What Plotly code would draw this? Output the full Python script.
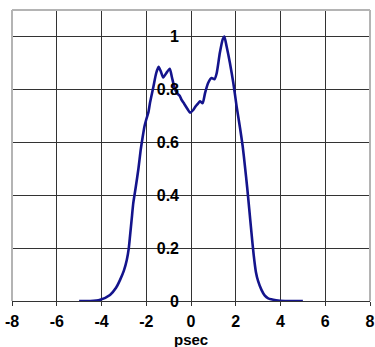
import plotly.graph_objects as go

# Data
time_psec = [-5.0, -4.5, -4.06, -3.62, -3.35, -3.17, -3.0, -2.87, -2.78, -2.72, -2.65,
             -2.58, -2.47, -2.35, -2.25, -2.16, -2.08, -2.0, -1.9, -1.83, -1.68, -1.56,
             -1.45, -1.35, -1.24, -1.1, -0.95, -0.85, -0.75, -0.64, -0.5, -0.42, -0.3,
             -0.15, -0.04, 0.1, 0.2, 0.3, 0.4, 0.52, 0.63, 0.77, 0.92, 1.05, 1.15, 1.29,
             1.42, 1.49, 1.59, 1.74, 1.89, 2.04, 2.19, 2.31, 2.41, 2.51, 2.6, 2.7, 2.8,
             2.9, 3.0, 3.15, 3.3, 3.45, 3.8, 4.2, 5.0]
intensity = [0.0, 0.0, 0.005, 0.023, 0.05, 0.08, 0.115, 0.155, 0.2, 0.25, 0.31,
             0.37, 0.43, 0.5, 0.57, 0.62, 0.66, 0.686, 0.715, 0.75, 0.81, 0.86,
             0.885, 0.868, 0.845, 0.862, 0.878, 0.845, 0.81, 0.787, 0.775, 0.76, 0.745,
             0.725, 0.712, 0.722, 0.735, 0.745, 0.755, 0.748, 0.787, 0.825, 0.843, 0.838, 0.862, 0.938,
             0.99, 1.0, 0.963, 0.9, 0.825, 0.735, 0.655, 0.585, 0.51, 0.43, 0.35, 0.26, 0.175,
             0.11, 0.075, 0.042, 0.02, 0.01, 0.003, 0.0, 0.0]

x_tick_vals = [-8, -6, -4, -2, 0, 2, 4, 6, 8]
x_tick_text = ["-8", "-6", "-4", "-2", "0", "2", "4", "6", "8"]
y_tick_vals = [0, 0.2, 0.4, 0.6, 0.8, 1.0]
y_tick_text = ["0", "0.2", "0.4", "0.6", "0.8", "1"]
x_title = "psec"

FONT = "Liberation Sans"
GRID = "#333333"
FRAME = "#b4b4b4"
TICKFONT = dict(family=FONT, size=16, color="black", weight="bold")

fig = go.Figure()
fig.add_trace(go.Scatter(x=time_psec, y=intensity, mode="lines",
                         line=dict(color="#14148c", width=2.6, shape="spline", smoothing=0.6),
                         hoverinfo="skip", showlegend=False))

fig.update_layout(
    width=375, height=347,
    margin=dict(l=12, r=5, t=10, b=46),
    paper_bgcolor="white", plot_bgcolor="white",
    font=dict(family=FONT, size=16, color="black", weight="bold"),
    xaxis=dict(range=[-8, 8], domain=[0, 1], tickvals=x_tick_vals, ticktext=x_tick_text,
               showgrid=True, gridcolor=GRID, gridwidth=1, zeroline=False,
               showline=True, linecolor=GRID, linewidth=1,
               ticks="outside", ticklen=4, tickcolor=GRID, ticklabelstandoff=2,
               tickfont=TICKFONT, automargin=False, fixedrange=True),
    yaxis=dict(range=[0, 1.1], tickvals=y_tick_vals, ticktext=y_tick_text,
               anchor="free", position=0.5, automargin=False,
               showgrid=True, gridcolor=GRID, gridwidth=1, zeroline=False,
               showline=False, ticks="", ticklabelstandoff=12,
               tickfont=TICKFONT, fixedrange=True),
)

# x-axis title placed at the bottom edge, as in the reference
fig.add_annotation(text=x_title, xref="paper", yref="paper", x=0.5, y=0,
                   xanchor="center", yanchor="bottom", yshift=-48, showarrow=False,
                   borderpad=0,
                   font=dict(family=FONT, size=15, color="black", weight="bold"))

# light grey plot-area frame (left, top, right)
for x0, y0, x1, y1 in [(0, 0, 0, 1), (0, 1, 1, 1), (1, 0, 1, 1)]:
    fig.add_shape(type="line", xref="x domain", yref="y domain", x0=x0, y0=y0, x1=x1, y1=y1,
                  line=dict(color=FRAME, width=2), layer="above")

fig.write_html("out.html", config={"displayModeBar": False},
               post_script="document.body.style.margin='0';document.body.style.overflow='hidden';")
